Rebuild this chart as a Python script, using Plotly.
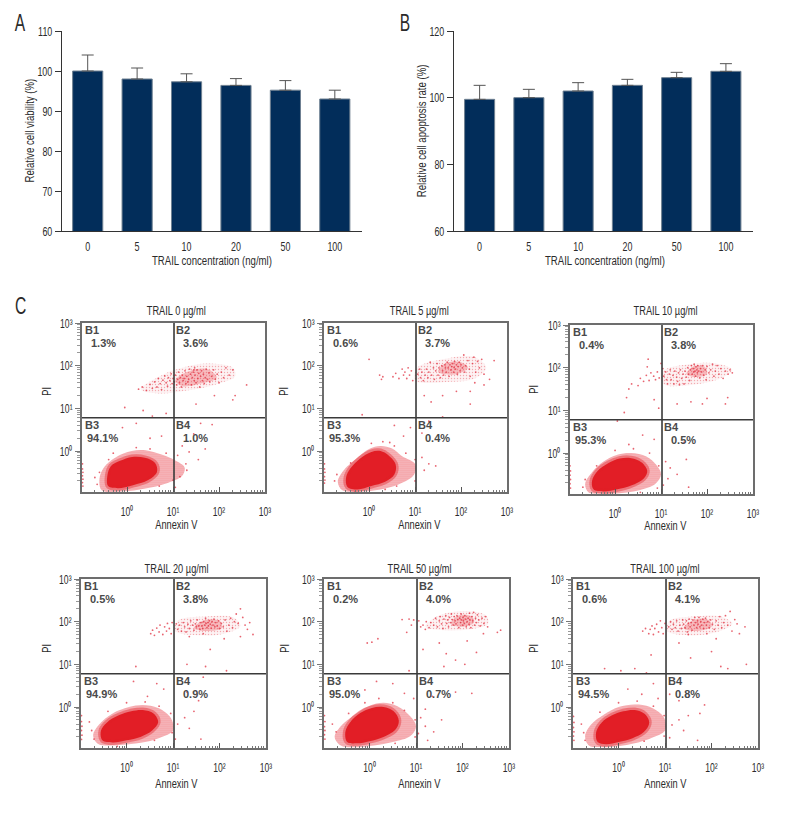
import plotly.graph_objects as go

W, H = 792, 816
NARROW = "Liberation Sans Narrow, Liberation Sans, sans-serif"
BOLD = "Liberation Sans, Arial, sans-serif"

# ---------- data: bar charts ----------
CONC = ["0", "5", "10", "20", "50", "100"]
VIABILITY = [100.0, 98.0, 97.3, 96.4, 95.2, 93.0]
VIABILITY_TOP = [104.0, 100.75, 99.3, 98.1, 97.6, 95.2]
APOPTOSIS = [99.5, 100.0, 102.0, 103.7, 106.0, 107.9]
APOPTOSIS_TOP = [103.7, 102.5, 104.5, 105.5, 107.6, 110.2]

# ---------- data: flow plots, (log10 Annexin V, log10 PI) ----------
TITLES = ["TRAIL 0 µg/ml", "TRAIL 5 µg/ml", "TRAIL 10 µg/ml", "TRAIL 20 µg/ml", "TRAIL 50 µg/ml", "TRAIL 100 µg/ml"]
Q1 = ["1.3%", "0.6%", "0.4%", "0.5%", "0.2%", "0.6%"]
Q2 = ["3.6%", "3.7%", "3.8%", "3.8%", "4.0%", "4.1%"]
Q3 = ["94.1%", "95.3%", "95.3%", "94.9%", "95.0%", "94.5%"]
Q4 = ["1.0%", "0.4%", "0.5%", "0.9%", "0.7%", "0.8%"]

C1_HALO = [(-0.6,-0.65),(-0.5,-0.38),(-0.25,-0.15),(0.1,0.0),(0.4,0.02),(0.75,-0.08),(1.05,-0.22),(1.25,-0.38),(1.2,-0.58),(0.85,-0.76),(0.4,-0.88),(-0.1,-0.95),(-0.55,-0.92)]
C1_CORE = [(-0.43,-0.59),(-0.35,-0.35),(-0.15,-0.23),(0.11,-0.14),(0.39,-0.16),(0.61,-0.28),(0.65,-0.49),(0.46,-0.68),(0.13,-0.8),(-0.2,-0.87),(-0.41,-0.82)]
C1_CLOUD = [(0.3,1.45),(0.8,1.8),(1.2,1.95),(1.7,2.05),(2.3,1.95),(2.35,1.75),(1.9,1.55),(1.3,1.42),(0.7,1.35)]
C1_SPOT = [(1.05,1.65),(1.3,1.85),(1.75,1.92),(1.95,1.72),(1.6,1.58),(1.2,1.52)]
C1_DOTS = [(0.25,1.45),(0.33,1.5),(0.42,1.42),(0.5,1.56),(0.55,1.47),(0.6,1.62),(0.65,1.5),(0.68,1.7),(0.72,1.58),(0.75,1.44),(0.78,1.66),(0.82,1.76),(0.85,1.6),(0.88,1.52),(0.9,1.72),(0.93,1.65),(0.96,1.81),(0.98,1.58),(1.0,1.7),(1.03,1.62),(1.05,1.78),(1.08,1.55),(1.1,1.68),(1.12,1.85),(1.14,1.6),(1.16,1.72),(1.18,1.5),(1.2,1.78),(1.22,1.65),(1.24,1.7),(1.26,1.88),(1.28,1.58),(1.3,1.75),(1.32,1.62),(1.34,1.68),(1.36,1.92),(1.38,1.8),(1.4,1.55),(1.42,1.72),(1.44,1.85),(1.45,1.9),(1.46,1.65),(1.47,1.95),(1.48,1.78),(1.5,1.6),(1.52,1.9),(1.54,1.7),(1.56,1.82),(1.58,1.5),(1.6,1.75),(1.62,1.88),(1.64,1.65),(1.66,1.8),(1.68,1.58),(1.7,1.72),(1.72,1.92),(1.75,1.68),(1.78,1.83),(1.8,1.62),(1.84,1.75),(1.88,1.9),(1.92,1.68),(1.96,1.8),(2.0,1.6),(2.05,1.85),(2.1,1.72),(2.15,1.95),(2.22,1.78),(2.3,1.9),(2.6,1.55),(2.35,1.3),(-0.05,1.02),(0.35,0.95),(0.55,0.82),(0.85,0.88),(1.5,1.1),(2.3,1.2),(1.9,1.3),(1.6,0.65),(1.85,0.62),(1.45,0.4),(1.2,0.12),(0.75,0.35),(0.2,0.65),(0.5,0.3),(-0.1,0.55),(-0.97,-0.3),(-0.97,-0.42),(-0.96,-0.5),(-0.97,-0.58),(-0.96,-0.66),(-0.97,-0.74),(-0.96,-0.82),(-0.4,-0.2),(-0.6,-0.5),(-0.7,-0.62),(-0.65,-0.78),(-0.3,-0.05),(0.2,0.08),(0.5,0.05),(0.85,-0.05),(1.1,-0.1),(1.28,-0.3),(1.3,-0.45),(1.15,-0.6),(1.0,-0.68),(0.7,-0.82),(1.55,-0.2),(1.7,0.05),(1.35,-0.02),(1.05,-0.85)]

C2_HALO = [(-0.68,-0.72),(-0.55,-0.45),(-0.3,-0.2),(0.0,0.05),(0.25,0.12),(0.5,0.06),(0.72,-0.12),(1.0,-0.3),(0.98,-0.55),(0.65,-0.78),(0.25,-0.9),(-0.2,-0.95),(-0.58,-0.92)]
C2_CORE = [(-0.5,-0.62),(-0.4,-0.4),(-0.2,-0.18),(0.05,-0.02),(0.25,0.0),(0.42,-0.1),(0.58,-0.32),(0.55,-0.55),(0.35,-0.72),(0.05,-0.82),(-0.25,-0.9),(-0.47,-0.84)]
C2_CLOUD = [(1.0,1.65),(1.05,1.95),(1.6,2.15),(2.3,2.2),(2.55,1.95),(2.3,1.7),(1.7,1.62)]
C2_SPOT = [(1.5,1.85),(1.65,2.05),(2.0,2.08),(2.15,1.95),(1.9,1.8)]
C2_DOTS = [(0.23,1.78),(0.27,1.68),(0.3,1.74),(0.52,1.74),(0.58,1.82),(0.65,1.7),(0.72,1.92),(0.75,1.78),(0.78,1.85),(0.82,1.7),(0.85,1.95),(0.88,1.78),(0.92,1.88),(0.95,1.65),(1.06,1.8),(1.1,1.92),(1.12,1.72),(1.15,1.85),(1.18,1.65),(1.22,1.78),(1.25,1.92),(1.28,1.72),(1.3,1.85),(1.33,2.08),(1.36,1.78),(1.4,1.95),(1.42,1.68),(1.45,1.88),(1.48,2.05),(1.5,1.78),(1.52,1.95),(1.55,1.72),(1.58,2.0),(1.6,1.88),(1.62,1.78),(1.65,2.02),(1.66,1.95),(1.68,1.85),(1.7,2.08),(1.72,1.95),(1.74,1.75),(1.76,2.02),(1.78,1.9),(1.8,1.98),(1.82,2.05),(1.84,1.85),(1.85,1.96),(1.86,2.1),(1.88,1.92),(1.9,2.02),(1.92,1.8),(1.94,1.98),(1.96,2.08),(1.98,1.88),(2.0,2.02),(2.03,1.95),(2.06,2.25),(2.08,1.85),(2.1,2.0),(2.15,2.12),(2.18,1.92),(2.2,1.75),(2.25,2.05),(2.28,2.2),(2.32,1.85),(2.36,2.1),(2.4,1.95),(2.45,2.15),(2.5,1.8),(2.5,1.55),(2.62,1.68),(2.72,2.12),(2.3,1.6),(1.6,1.3),(1.2,1.3),(1.35,1.15),(2.2,1.4),(1.9,1.4),(2.2,1.1),(1.3,0.7),(1.6,0.8),(0.0,2.15),(-0.15,0.85),(0.55,0.6),(0.9,0.55),(0.75,0.35),(0.45,0.2),(1.15,-0.15),(1.3,-0.3),(1.45,-0.35),(1.2,-0.45),(1.15,0.42),(-0.97,-0.3),(-0.97,-0.42),(-0.96,-0.5),(-0.97,-0.6),(-0.96,-0.68),(-0.97,-0.75),(-0.7,-0.55),(-0.75,-0.7),(-0.4,-0.28),(0.05,0.18),(0.3,0.22),(0.55,0.12),(0.8,-0.05),(1.0,-0.2),(1.0,-0.7),(0.6,-0.82),(0.35,-0.9),(-0.3,-0.95)]

C3_HALO = [(-0.65,-0.72),(-0.5,-0.45),(-0.25,-0.2),(0.05,-0.04),(0.35,0.0),(0.68,-0.08),(0.9,-0.28),(1.0,-0.5),(0.88,-0.72),(0.5,-0.88),(0.1,-0.94),(-0.3,-0.95),(-0.58,-0.92)]
C3_CORE = [(-0.5,-0.65),(-0.38,-0.42),(-0.15,-0.24),(0.1,-0.13),(0.35,-0.12),(0.58,-0.22),(0.7,-0.42),(0.62,-0.6),(0.35,-0.76),(0.05,-0.85),(-0.25,-0.9),(-0.47,-0.85)]
C3_CLOUD = [(1.05,1.62),(1.05,1.92),(1.6,2.08),(2.2,2.1),(2.55,1.95),(2.3,1.75),(1.7,1.6)]
C3_SPOT = [(1.55,1.85),(1.7,2.03),(1.95,2.02),(2.0,1.85),(1.75,1.78)]
C3_DOTS = [(0.3,1.5),(0.36,1.62),(0.5,1.58),(0.55,1.75),(0.62,1.68),(0.68,1.82),(0.74,1.7),(0.78,1.88),(0.84,1.8),(0.88,1.72),(0.92,1.9),(0.96,1.76),(1.04,1.98),(1.06,1.8),(1.1,1.9),(1.12,1.72),(1.14,1.62),(1.18,1.85),(1.2,1.95),(1.22,1.72),(1.26,1.82),(1.28,1.62),(1.3,1.92),(1.34,1.78),(1.36,1.68),(1.38,1.88),(1.4,1.6),(1.42,1.95),(1.45,1.75),(1.48,1.85),(1.5,1.62),(1.52,1.92),(1.55,1.78),(1.58,2.0),(1.6,1.85),(1.62,1.7),(1.64,1.95),(1.66,2.05),(1.68,1.85),(1.7,1.98),(1.71,1.9),(1.72,2.08),(1.74,1.92),(1.75,1.8),(1.76,2.02),(1.78,1.95),(1.79,1.88),(1.8,2.05),(1.82,1.92),(1.84,1.76),(1.86,1.98),(1.88,1.9),(1.9,2.05),(1.93,1.82),(1.96,1.95),(1.98,1.72),(2.0,2.03),(2.04,1.88),(2.08,1.95),(2.12,2.08),(2.15,1.8),(2.18,1.92),(2.22,2.05),(2.26,1.85),(2.3,1.98),(2.35,1.75),(2.4,1.92),(2.46,1.85),(2.5,1.95),(2.55,1.88),(1.0,2.1),(0.7,2.02),(0.72,2.2),(0.25,1.3),(0.85,1.25),(1.35,1.15),(1.65,1.2),(2.0,1.28),(2.45,1.3),(2.4,1.15),(1.9,1.15),(0.95,1.05),(0.05,0.75),(0.3,0.2),(0.6,0.42),(0.85,0.32),(0.2,0.95),(1.1,-0.2),(1.2,-0.35),(1.35,-0.5),(1.15,-0.6),(1.5,0.25),(1.55,-0.15),(1.6,-0.8),(1.05,-0.75),(-0.98,-0.3),(-0.97,-0.42),(-0.98,-0.52),(-0.97,-0.62),(-0.98,-0.72),(-0.97,-0.82),(-0.65,-0.62),(-0.7,-0.8),(-0.4,-0.3),(0.0,0.06),(0.4,0.1),(0.75,0.0),(0.95,-0.3),(0.92,-0.82),(0.55,-0.92)]

C4_HALO = [(-0.72,-0.66),(-0.6,-0.42),(-0.3,-0.15),(0.05,0.0),(0.35,0.05),(0.68,-0.02),(0.95,-0.25),(1.0,-0.55),(0.72,-0.72),(0.4,-0.82),(0.0,-0.88),(-0.3,-0.9),(-0.62,-0.86)]
C4_CORE = [(-0.55,-0.55),(-0.42,-0.36),(-0.18,-0.2),(0.1,-0.1),(0.35,-0.07),(0.58,-0.15),(0.68,-0.35),(0.55,-0.55),(0.3,-0.7),(0.0,-0.78),(-0.3,-0.83),(-0.52,-0.78)]
C4_CLOUD = [(1.05,1.78),(1.1,2.02),(1.7,2.12),(2.3,2.1),(2.45,1.9),(2.1,1.72),(1.6,1.68)]
C4_SPOT = [(1.45,1.85),(1.65,2.03),(2.0,2.02),(2.05,1.85),(1.7,1.78)]
C4_DOTS = [(0.52,1.72),(0.56,1.8),(0.6,1.68),(0.65,1.85),(0.7,1.76),(0.72,1.92),(0.78,1.7),(0.82,1.88),(0.86,1.78),(0.88,1.96),(0.92,1.84),(0.96,1.72),(0.98,1.98),(1.07,1.95),(1.1,1.82),(1.14,1.92),(1.18,1.78),(1.22,1.98),(1.25,1.88),(1.28,1.76),(1.32,1.94),(1.35,1.84),(1.38,2.02),(1.42,1.92),(1.45,1.8),(1.48,1.95),(1.5,1.88),(1.52,2.04),(1.55,1.9),(1.58,1.82),(1.6,1.98),(1.62,1.9),(1.64,1.84),(1.66,2.0),(1.68,1.92),(1.7,2.08),(1.71,1.96),(1.73,1.86),(1.75,1.98),(1.76,1.9),(1.78,2.02),(1.8,1.94),(1.82,1.85),(1.84,2.0),(1.86,1.92),(1.88,2.06),(1.9,1.88),(1.92,1.98),(1.95,1.9),(1.98,2.02),(2.0,1.84),(2.04,1.96),(2.08,1.88),(2.12,2.04),(2.16,1.78),(2.2,1.92),(2.24,2.08),(2.28,1.86),(2.32,2.0),(2.36,2.18),(2.4,1.96),(2.45,2.3),(2.5,2.1),(2.55,1.92),(2.6,1.82),(2.72,1.7),(2.65,1.98),(2.45,1.65),(1.65,1.72),(1.35,1.65),(2.1,1.6),(1.8,1.35),(1.3,1.0),(1.7,0.95),(2.15,0.85),(1.65,0.7),(0.2,0.95),(0.65,0.55),(0.45,0.25),(0.8,0.42),(0.15,0.6),(1.3,0.35),(1.55,0.15),(1.45,-0.1),(1.25,-0.25),(1.1,-0.4),(1.35,-0.5),(1.05,-0.75),(1.6,-0.75),(-0.97,-0.2),(-0.97,-0.34),(-0.96,-0.45),(-0.97,-0.55),(-0.96,-0.66),(-0.97,-0.76),(-0.8,-0.35),(-0.75,-0.55),(-0.7,-0.75),(-0.4,-0.1),(0.0,0.1),(0.4,0.12),(0.7,0.02),(0.95,-0.15),(0.98,-0.6),(0.6,-0.78),(-0.2,-0.92)]

C5_HALO = [(-0.75,-0.7),(-0.62,-0.45),(-0.32,-0.18),(0.0,0.03),(0.3,0.1),(0.6,0.02),(0.88,-0.22),(1.0,-0.45),(0.88,-0.68),(0.5,-0.82),(0.1,-0.9),(-0.3,-0.94),(-0.62,-0.9)]
C5_CORE = [(-0.52,-0.58),(-0.42,-0.36),(-0.2,-0.14),(0.05,-0.02),(0.3,0.0),(0.52,-0.1),(0.63,-0.32),(0.55,-0.54),(0.3,-0.7),(0.0,-0.8),(-0.27,-0.85),(-0.48,-0.82)]
C5_CLOUD = [(1.2,1.88),(1.45,2.12),(2.0,2.25),(2.5,2.15),(2.55,1.95),(2.15,1.82),(1.6,1.8)]
C5_SPOT = [(1.75,1.95),(1.9,2.14),(2.2,2.12),(2.25,1.98),(2.0,1.88)]
C5_DOTS = [(0.7,2.05),(0.85,2.06),(0.95,2.04),(0.9,1.92),(1.06,2.02),(1.1,1.88),(1.15,1.92),(1.2,1.82),(1.22,2.0),(1.28,1.86),(1.32,1.98),(1.38,1.92),(1.42,2.08),(1.46,1.88),(1.5,2.02),(1.52,2.12),(1.55,1.95),(1.58,1.84),(1.6,2.06),(1.64,2.14),(1.66,1.96),(1.68,2.04),(1.7,1.88),(1.72,2.1),(1.74,1.98),(1.76,2.18),(1.78,2.05),(1.8,1.92),(1.82,2.12),(1.84,2.02),(1.86,1.95),(1.88,2.14),(1.9,2.05),(1.92,1.86),(1.94,2.08),(1.96,1.98),(1.97,2.18),(1.98,2.04),(2.0,1.92),(2.01,2.1),(2.02,2.02),(2.04,1.96),(2.05,2.14),(2.06,2.06),(2.08,1.88),(2.1,2.0),(2.12,2.08),(2.14,1.94),(2.15,2.2),(2.16,2.04),(2.18,1.86),(2.2,2.12),(2.22,2.02),(2.24,2.22),(2.26,1.92),(2.28,2.08),(2.3,1.98),(2.32,2.16),(2.35,2.04),(2.38,1.9),(2.42,2.08),(2.46,1.96),(2.5,2.12),(2.54,1.88),(2.75,1.75),(2.82,1.8),(2.45,1.72),(2.1,1.55),(1.5,1.5),(1.15,1.35),(1.65,1.25),(2.3,1.28),(1.85,1.1),(2.05,1.0),(1.6,0.95),(0.8,1.75),(0.18,1.6),(0.05,1.52),(-0.05,1.5),(0.85,0.85),(0.5,0.55),(0.75,0.32),(0.95,0.2),(0.15,0.6),(-0.1,0.4),(2.2,0.32),(1.85,0.35),(1.35,0.25),(1.2,-0.05),(1.1,-0.25),(1.2,-0.45),(1.38,-0.58),(1.55,-0.3),(1.05,-0.62),(1.25,-0.78),(-0.97,-0.2),(-0.96,-0.34),(-0.97,-0.46),(-0.96,-0.55),(-0.97,-0.65),(-0.96,-0.75),(-0.8,-0.4),(-0.72,-0.58),(-0.45,-0.15),(-0.1,0.1),(0.2,0.2),(0.5,0.1),(0.75,-0.08),(0.98,-0.3),(0.98,-0.7),(0.55,-0.85),(-0.35,-0.98)]

C6_HALO = [(-0.72,-0.68),(-0.58,-0.4),(-0.32,-0.18),(0.0,0.0),(0.35,0.06),(0.68,0.0),(0.98,-0.25),(1.0,-0.55),(0.72,-0.72),(0.35,-0.85),(0.0,-0.92),(-0.35,-0.94),(-0.64,-0.9)]
C6_CORE = [(-0.48,-0.58),(-0.36,-0.36),(-0.15,-0.2),(0.1,-0.1),(0.35,-0.07),(0.56,-0.16),(0.66,-0.36),(0.55,-0.58),(0.3,-0.73),(0.0,-0.82),(-0.27,-0.87),(-0.45,-0.82)]
C6_CLOUD = [(1.05,1.78),(1.1,2.02),(1.6,2.12),(2.2,2.12),(2.45,1.95),(2.1,1.75),(1.5,1.68)]
C6_SPOT = [(1.4,1.85),(1.65,2.05),(1.95,2.03),(2.0,1.88),(1.65,1.78)]
C6_DOTS = [(0.52,1.78),(0.58,1.84),(0.65,1.72),(0.68,1.82),(0.72,1.9),(0.75,1.7),(0.78,1.84),(0.82,1.94),(0.86,1.76),(0.9,2.02),(0.93,1.86),(0.96,1.72),(1.0,1.96),(1.08,1.88),(1.12,2.0),(1.15,1.82),(1.18,1.94),(1.22,1.86),(1.25,2.02),(1.28,1.78),(1.32,1.92),(1.35,1.84),(1.38,2.04),(1.4,1.94),(1.43,1.86),(1.46,2.02),(1.48,1.76),(1.5,1.96),(1.52,2.06),(1.54,1.88),(1.56,1.98),(1.58,1.8),(1.6,2.04),(1.62,1.92),(1.64,2.1),(1.66,1.98),(1.68,1.86),(1.7,2.02),(1.71,1.94),(1.73,2.1),(1.75,1.88),(1.77,2.0),(1.79,1.92),(1.81,2.06),(1.83,1.84),(1.85,1.98),(1.87,2.08),(1.89,1.92),(1.92,2.0),(1.95,1.86),(1.98,2.04),(2.02,1.94),(2.06,1.82),(2.1,2.02),(2.14,1.92),(2.18,2.12),(2.22,1.86),(2.26,1.98),(2.3,2.14),(2.35,1.92),(2.4,2.24),(2.44,1.78),(2.5,2.05),(2.55,1.95),(2.72,1.88),(2.6,1.72),(1.9,1.72),(1.5,1.7),(2.1,1.6),(1.3,1.5),(2.0,1.3),(2.2,0.95),(2.35,0.9),(2.75,1.0),(1.55,1.15),(0.7,1.22),(0.05,0.85),(-0.3,0.9),(0.35,0.9),(0.6,0.8),(0.75,0.55),(0.5,0.3),(0.85,0.2),(0.2,0.42),(1.1,0.3),(1.3,0.15),(1.85,0.05),(1.75,-0.15),(1.5,-0.2),(1.3,-0.3),(1.15,-0.42),(1.4,-0.55),(1.1,-0.72),(1.7,-0.78),(-0.97,-0.22),(-0.96,-0.36),(-0.97,-0.48),(-0.96,-0.58),(-0.97,-0.68),(-0.96,-0.78),(-0.8,-0.4),(-0.75,-0.6),(-0.72,-0.78),(-0.4,-0.12),(0.0,0.1),(0.4,0.14),(0.75,0.02),(0.98,-0.2),(0.98,-0.68),(0.55,-0.8),(-0.3,-0.98)]

HALOS = [C1_HALO, C2_HALO, C3_HALO, C4_HALO, C5_HALO, C6_HALO]
CORES = [C1_CORE, C2_CORE, C3_CORE, C4_CORE, C5_CORE, C6_CORE]
CLOUDS = [C1_CLOUD, C2_CLOUD, C3_CLOUD, C4_CLOUD, C5_CLOUD, C6_CLOUD]
SPOTS = [C1_SPOT, C2_SPOT, C3_SPOT, C4_SPOT, C5_SPOT, C6_SPOT]
DOTS = [C1_DOTS, C2_DOTS, C3_DOTS, C4_DOTS, C5_DOTS, C6_DOTS]
DECADES = [1, 10, 100, 1000]
DECADE_LABELS = ["10⁰", "10¹", "10²", "10³"]
GATE_X = 10.5   # Annexin V quadrant gate
GATE_Y = 6.0    # PI quadrant gate

# ---------- layout geometry in page pixels ----------
BAR_BOXES = [(62, 362), (454, 753)]
BAR_TOP, BAR_BOTTOM = 31, 231
FLOW_BOXES = [
    (82, 265, 323, 492), (324, 507, 323, 492), (570, 753, 325, 494),
    (81, 266, 579, 748), (324, 509, 579, 748), (573, 758, 579, 748),
]
CENTER_X = [176, 419, 665, 176, 419, 665]
TITLE_Y = [311, 311, 311, 569, 569, 569]
XLAB_Y = [525, 525, 526, 784, 784, 784]
PI_X = [47, 284, 534, 47, 285, 534]
PI_Y = [392, 392, 390, 649, 649, 649]

def px(x): return x / W
def py(y): return 1 - y / H

fig = go.Figure()
layout = dict(
    template="none",
    width=W, height=H, margin=dict(l=0, r=0, t=0, b=0), autosize=False,
    paper_bgcolor="white", plot_bgcolor="white", showlegend=False,
    font=dict(family=NARROW, color="#2b2b2b", size=12), bargap=0.39,
)
ann = []

def text(x, y, s, size=12, angle=0, anchor="center", color="#2b2b2b", family=NARROW, weight=None):
    f = dict(size=size, color=color, family=family)
    if weight:
        f["weight"] = weight
    ann.append(dict(xref="paper", yref="paper", x=px(x), y=py(y), text=s, showarrow=False,
                    font=f, textangle=angle, xanchor=anchor, yanchor="middle"))

# bar panels
bar_sets = [(VIABILITY, VIABILITY_TOP, [60, 110], list(range(60, 111, 10)), "Relative cell viability (%)", 30, 212),
            (APOPTOSIS, APOPTOSIS_TOP, [60, 120], [60, 80, 100, 120], "Relative cell apoptosis rate (%)", 422, 605)]
for i, (vals, tops, yr, ticks, title, ty, tx) in enumerate(bar_sets):
    n = "" if i == 0 else "2"
    fig.add_trace(go.Bar(
        x=CONC, y=vals, xaxis="x" + n, yaxis="y" + n,
        marker=dict(color="#022d5a", line=dict(color="#6f8091", width=1)),
        error_y=dict(type="data", symmetric=False, array=[t - v for t, v in zip(tops, vals)],
                     arrayminus=[0] * len(vals), color="#555555", thickness=1, width=6),
    ))
    L, R = BAR_BOXES[i]
    layout["xaxis" + n] = dict(domain=[px(L), px(R)], anchor="y" + n, type="category",
                               range=[-0.52, 5.55], showgrid=False, showline=True, linecolor="#333333",
                               linewidth=1, ticks="", tickfont=dict(size=13.5), zeroline=False,
                               ticklabelstandoff=3, automargin=False)
    layout["yaxis" + n] = dict(domain=[py(BAR_BOTTOM), py(BAR_TOP)], anchor="x" + n, range=yr,
                               tickvals=ticks, showgrid=False, showline=True, linecolor="#333333",
                               linewidth=1, ticks="outside", ticklen=6, tickcolor="#333333",
                               tickfont=dict(size=13.5), zeroline=False, automargin=False)
    text(ty, 131, title, size=12.5, angle=-90)
    text(tx, 261, "TRAIL concentration (ng/ml)", size=12.5)

text(20, 22, "A", size=24)
text(405, 22, "B", size=24)
text(20, 305, "C", size=24)

def patch(poly, ax, ay, col, fg, solid, size, edge=None):
    fig.add_trace(go.Scatter(
        x=[10 ** p[0] for p in poly] + [10 ** poly[0][0]],
        y=[10 ** p[1] for p in poly] + [10 ** poly[0][1]],
        xaxis=ax, yaxis=ay, mode="lines", fill="toself", fillcolor=col,
        fillpattern=dict(shape=".", fgcolor=fg, bgcolor=col, size=size, solidity=solid) if fg else None,
        line=dict(width=5 if edge else 0, color=edge, shape="spline", smoothing=1.0), hoverinfo="skip",
    ))

# flow panels
minor_ticks = [m * d for d in [0.1, 1, 10, 100] for m in range(2, 10)]
for i in range(6):
    k = i + 3
    ax, ay = f"x{k}", f"y{k}"
    L, R, T, B = FLOW_BOXES[i]
    patch(CLOUDS[i], ax, ay, "rgba(232,70,80,0.07)", "rgba(226,40,50,0.35)", 0.16, 3)
    patch(SPOTS[i], ax, ay, "rgba(228,50,60,0.20)", "rgba(226,30,40,0.6)", 0.2, 2)
    patch(HALOS[i], ax, ay, "rgba(232,70,80,0.30)", "rgba(226,30,40,0.7)", 0.25, 2)
    patch(CORES[i], ax, ay, "#e21e26", None, 0, 0, edge="rgba(226,30,38,0.4)")
    dots = DOTS[i]
    fig.add_trace(go.Scatter(
        x=[10 ** p[0] for p in dots], y=[10 ** p[1] for p in dots], xaxis=ax, yaxis=ay,
        mode="markers", marker=dict(color="#e03040", size=1.8, opacity=0.75, line=dict(width=0)),
    ))
    xlow, xhigh = 10 ** -0.98, 1000
    ylow, yhigh = 10 ** -0.96, 1000
    fig.add_trace(go.Scatter(x=[GATE_X, GATE_X], y=[ylow, yhigh], xaxis=ax, yaxis=ay, mode="lines",
                             line=dict(color="#3a3a3a", width=1.6)))
    fig.add_trace(go.Scatter(x=[xlow, xhigh], y=[GATE_Y, GATE_Y], xaxis=ax, yaxis=ay, mode="lines",
                             line=dict(color="#3a3a3a", width=1.6)))
    layout[f"xaxis{k}"] = dict(domain=[px(L), px(R)], anchor=ay, type="log", range=[-0.98, 3],
                               tickvals=DECADES, ticktext=DECADE_LABELS, showgrid=False, zeroline=False,
                               showline=True, mirror=True, linecolor="#6d6d6d", linewidth=1.8,
                               ticks="inside", ticklen=5, tickcolor="#555555", tickfont=dict(size=13),
                               ticklabelstandoff=6, automargin=False,
                               minor=dict(tickvals=minor_ticks, ticks="inside", ticklen=2, tickcolor="#777777", showgrid=False))
    layout[f"yaxis{k}"] = dict(domain=[py(B), py(T)], anchor=ax, type="log", range=[-0.96, 3],
                               tickvals=DECADES, ticktext=DECADE_LABELS, showgrid=False, zeroline=False,
                               showline=True, mirror=True, linecolor="#6d6d6d", linewidth=1.8,
                               ticks="outside", ticklen=5, tickcolor="#777777", tickfont=dict(size=13), automargin=False,
                               minor=dict(tickvals=minor_ticks, ticks="outside", ticklen=3, tickcolor="#999999", showgrid=False))
    cx = L + (R - L) * 2.0 / 3.98
    text(CENTER_X[i], TITLE_Y[i], TITLES[i], size=12)
    text(CENTER_X[i], XLAB_Y[i], "Annexin V", size=12)
    text(PI_X[i], PI_Y[i], "PI", size=12, angle=-90)
    qy = T + (B - T) * 0.56
    for lx, ly, s in ((L + 1, T + 7, "B1"), (L + 7, T + 20, Q1[i]),
                      (cx, T + 7, "B2"), (cx + 7, T + 20, Q2[i]),
                      (L + 1, qy + 7, "B3"), (L + 3, qy + 20, Q3[i]),
                      (cx, qy + 7, "B4"), (cx + 7, qy + 20, Q4[i])):
        text(lx, ly, s, size=11, anchor="left", color="#4a4a4a", family=BOLD, weight="bold")

layout["annotations"] = ann
fig.update_layout(**layout)

CONDENSE = """
document.body.style.margin='0';
document.querySelectorAll('.xaxislayer-above text,.yaxislayer-above text,.annotation-text').forEach(function(t){
  if ((t.style.fontFamily||'').indexOf('Narrow') < 0) return;
  var fs = parseFloat(t.style.fontSize);
  var r = t.classList.contains('annotation-text') ? (fs > 20 ? 0.65 : 0.77) : 0.66;
  t.setAttribute('textLength', (t.getComputedTextLength() * r).toFixed(1));
  t.setAttribute('lengthAdjust', 'spacingAndGlyphs');
});
"""
fig.write_html("out.html", config={"displayModeBar": False}, post_script=CONDENSE)
